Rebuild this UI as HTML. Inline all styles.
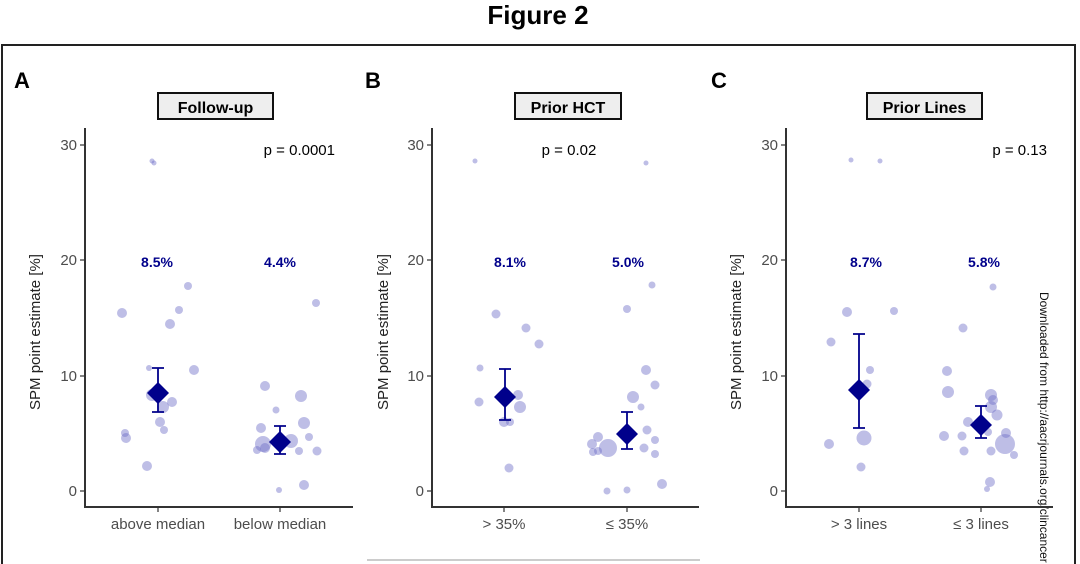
<!DOCTYPE html>
<html><head><meta charset="utf-8"><style>
html,body{margin:0;padding:0;background:#fff;}
svg{display:block;font-family:"Liberation Sans",sans-serif;}
.pt{fill:rgba(110,110,200,0.45);}
.tk{fill:#4d4d4d;font-size:15px;}
.lab{fill:#00008b;font-size:14px;font-weight:bold;text-anchor:middle;}
.ax{stroke:#333;stroke-width:2;fill:none;}
.eb{stroke:#00008b;stroke-width:1.8;fill:none;}
</style></head><body>
<svg width="1080" height="564" viewBox="0 0 1080 564">
<text x="538" y="24" font-size="26" font-weight="bold" text-anchor="middle">Figure 2</text>
<rect x="2" y="45" width="1073" height="530" fill="none" stroke="#222" stroke-width="2"/>
<line x1="367" y1="560" x2="700" y2="560" stroke="#bbb" stroke-width="1.5"/>
<text x="14" y="88" font-size="22" font-weight="bold">A</text>
<text x="365" y="88" font-size="22" font-weight="bold">B</text>
<text x="711" y="88" font-size="22" font-weight="bold">C</text>
<text transform="translate(1040,292) rotate(90)" font-size="12" fill="#111">Downloaded from http://aacrjournals.org/clincancer</text>

<!-- Panel A -->
<g>
<rect x="158" y="93" width="115" height="26" fill="#eee" stroke="#111" stroke-width="2"/>
<text x="215.5" y="113" font-size="16" font-weight="bold" text-anchor="middle">Follow-up</text>
<path class="ax" d="M85 128 V507 H353"/>
<g stroke="#333" stroke-width="1.2"><line x1="80" y1="145" x2="85" y2="145"/><line x1="80" y1="260" x2="85" y2="260"/><line x1="80" y1="376" x2="85" y2="376"/><line x1="80" y1="491" x2="85" y2="491"/><line x1="158" y1="507" x2="158" y2="512"/><line x1="280" y1="507" x2="280" y2="512"/></g>
<text class="tk" x="77" y="150" text-anchor="end">30</text><text class="tk" x="77" y="265" text-anchor="end">20</text><text class="tk" x="77" y="381" text-anchor="end">10</text><text class="tk" x="77" y="496" text-anchor="end">0</text>
<text class="tk" x="158" y="529" text-anchor="middle">above median</text><text class="tk" x="280" y="529" text-anchor="middle">below median</text>
<text transform="translate(40,332) rotate(-90)" font-size="15" fill="#222" text-anchor="middle">SPM point estimate [%]</text>
<text x="335" y="155" font-size="15" text-anchor="end">p = 0.0001</text>
<text class="lab" x="157" y="267">8.5%</text><text class="lab" x="280" y="267">4.4%</text>
<g class="pt">
<circle cx="122" cy="313" r="5"/><circle cx="188" cy="286" r="4"/><circle cx="170" cy="324" r="5"/><circle cx="179" cy="310" r="4"/><circle cx="149" cy="368" r="3"/><circle cx="194" cy="370" r="5"/><circle cx="152" cy="395" r="6"/><circle cx="163" cy="407" r="6"/><circle cx="172" cy="402" r="5"/><circle cx="160" cy="422" r="5"/><circle cx="164" cy="430" r="4"/><circle cx="125" cy="433" r="4"/><circle cx="126" cy="438" r="5"/><circle cx="147" cy="466" r="5"/><circle cx="152" cy="161" r="2.5"/><circle cx="154" cy="163" r="2.5"/>
<circle cx="316" cy="303" r="4"/><circle cx="265" cy="386" r="5"/><circle cx="301" cy="396" r="6"/><circle cx="276" cy="410" r="3.5"/><circle cx="261" cy="428" r="5"/><circle cx="304" cy="423" r="6"/><circle cx="263" cy="444" r="8"/><circle cx="265" cy="448" r="5"/><circle cx="291" cy="441" r="7"/><circle cx="309" cy="437" r="4"/><circle cx="299" cy="451" r="4"/><circle cx="317" cy="451" r="4.5"/><circle cx="304" cy="485" r="5"/><circle cx="279" cy="490" r="3"/><circle cx="257" cy="450" r="4"/>
</g>
<path class="eb" d="M152 368 H164 M158 368 V412 M152 412 H164 M274 426 H286 M280 426 V454 M274 454 H286"/>
<path d="M158 382 L169 393 L158 404 L147 393Z M280 431 L291 442 L280 453 L269 442Z" fill="#00008b"/>
</g>

<!-- Panel B -->
<g>
<rect x="515" y="93" width="106" height="26" fill="#eee" stroke="#111" stroke-width="2"/>
<text x="568" y="113" font-size="16" font-weight="bold" text-anchor="middle">Prior HCT</text>
<path class="ax" d="M432 128 V507 H699"/>
<g stroke="#333" stroke-width="1.2"><line x1="427" y1="145" x2="432" y2="145"/><line x1="427" y1="260" x2="432" y2="260"/><line x1="427" y1="376" x2="432" y2="376"/><line x1="427" y1="491" x2="432" y2="491"/><line x1="504" y1="507" x2="504" y2="512"/><line x1="627" y1="507" x2="627" y2="512"/></g>
<text class="tk" x="424" y="150" text-anchor="end">30</text><text class="tk" x="424" y="265" text-anchor="end">20</text><text class="tk" x="424" y="381" text-anchor="end">10</text><text class="tk" x="424" y="496" text-anchor="end">0</text>
<text class="tk" x="504" y="529" text-anchor="middle">&gt; 35%</text><text class="tk" x="627" y="529" text-anchor="middle">≤ 35%</text>
<text transform="translate(388,332) rotate(-90)" font-size="15" fill="#222" text-anchor="middle">SPM point estimate [%]</text>
<text x="569" y="155" font-size="15" text-anchor="middle">p = 0.02</text>
<text class="lab" x="510" y="267">8.1%</text><text class="lab" x="628" y="267">5.0%</text>
<g class="pt">
<circle cx="475" cy="161" r="2.5"/><circle cx="646" cy="163" r="2.5"/><circle cx="496" cy="314" r="4.5"/><circle cx="526" cy="328" r="4.5"/><circle cx="539" cy="344" r="4.5"/><circle cx="480" cy="368" r="3.5"/><circle cx="479" cy="402" r="4.5"/><circle cx="518" cy="395" r="5"/><circle cx="520" cy="407" r="6"/><circle cx="504" cy="422" r="5"/><circle cx="510" cy="422" r="4"/><circle cx="509" cy="468" r="4.5"/>
<circle cx="627" cy="309" r="4"/><circle cx="652" cy="285" r="3.5"/><circle cx="646" cy="370" r="5"/><circle cx="655" cy="385" r="4.5"/><circle cx="633" cy="397" r="6"/><circle cx="641" cy="407" r="3.5"/><circle cx="647" cy="430" r="4.5"/><circle cx="644" cy="448" r="4.5"/><circle cx="655" cy="440" r="4"/><circle cx="655" cy="454" r="4"/><circle cx="662" cy="484" r="5"/><circle cx="608" cy="448" r="9"/><circle cx="592" cy="444" r="5"/><circle cx="598" cy="437" r="5"/><circle cx="593" cy="452" r="4"/><circle cx="598" cy="451" r="4"/><circle cx="607" cy="491" r="3.5"/><circle cx="627" cy="490" r="3.5"/>
</g>
<path class="eb" d="M499 369 H511 M505 369 V420 M499 420 H511 M621 412 H633 M627 412 V449 M621 449 H633"/>
<path d="M505 386 L516 397 L505 408 L494 397Z M627 423 L638 434 L627 445 L616 434Z" fill="#00008b"/>
</g>

<!-- Panel C -->
<g>
<rect x="867" y="93" width="115" height="26" fill="#eee" stroke="#111" stroke-width="2"/>
<text x="924.5" y="113" font-size="16" font-weight="bold" text-anchor="middle">Prior Lines</text>
<path class="ax" d="M786 128 V507 H1053"/>
<g stroke="#333" stroke-width="1.2"><line x1="781" y1="145" x2="786" y2="145"/><line x1="781" y1="260" x2="786" y2="260"/><line x1="781" y1="376" x2="786" y2="376"/><line x1="781" y1="491" x2="786" y2="491"/><line x1="859" y1="507" x2="859" y2="512"/><line x1="981" y1="507" x2="981" y2="512"/></g>
<text class="tk" x="778" y="150" text-anchor="end">30</text><text class="tk" x="778" y="265" text-anchor="end">20</text><text class="tk" x="778" y="381" text-anchor="end">10</text><text class="tk" x="778" y="496" text-anchor="end">0</text>
<text class="tk" x="859" y="529" text-anchor="middle">&gt; 3 lines</text><text class="tk" x="981" y="529" text-anchor="middle">≤ 3 lines</text>
<text transform="translate(741,332) rotate(-90)" font-size="15" fill="#222" text-anchor="middle">SPM point estimate [%]</text>
<text x="1047" y="155" font-size="15" text-anchor="end">p = 0.13</text>
<text class="lab" x="866" y="267">8.7%</text><text class="lab" x="984" y="267">5.8%</text>
<g class="pt">
<circle cx="851" cy="160" r="2.5"/><circle cx="880" cy="161" r="2.5"/><circle cx="847" cy="312" r="5"/><circle cx="894" cy="311" r="4"/><circle cx="831" cy="342" r="4.5"/><circle cx="870" cy="370" r="4"/><circle cx="867" cy="384" r="4.5"/><circle cx="829" cy="444" r="5"/><circle cx="864" cy="438" r="7.5"/><circle cx="861" cy="467" r="4.5"/>
<circle cx="963" cy="328" r="4.5"/><circle cx="993" cy="287" r="3.5"/><circle cx="947" cy="371" r="5"/><circle cx="948" cy="392" r="6"/><circle cx="991" cy="395" r="6"/><circle cx="993" cy="400" r="5"/><circle cx="991" cy="407" r="6"/><circle cx="944" cy="436" r="5"/><circle cx="962" cy="436" r="4.5"/><circle cx="968" cy="422" r="5"/><circle cx="988" cy="432" r="4"/><circle cx="997" cy="415" r="5.5"/><circle cx="1005" cy="444" r="10"/><circle cx="1006" cy="433" r="5"/><circle cx="1014" cy="455" r="4"/><circle cx="991" cy="451" r="4.5"/><circle cx="964" cy="451" r="4.5"/><circle cx="990" cy="482" r="5"/><circle cx="987" cy="489" r="3"/>
</g>
<path class="eb" d="M853 334 H865 M859 334 V428 M853 428 H865 M975 406 H987 M981 406 V438 M975 438 H987"/>
<path d="M859 379 L870 390 L859 401 L848 390Z M981 414 L992 425 L981 436 L970 425Z" fill="#00008b"/>
</g>
</svg>
</body></html>
